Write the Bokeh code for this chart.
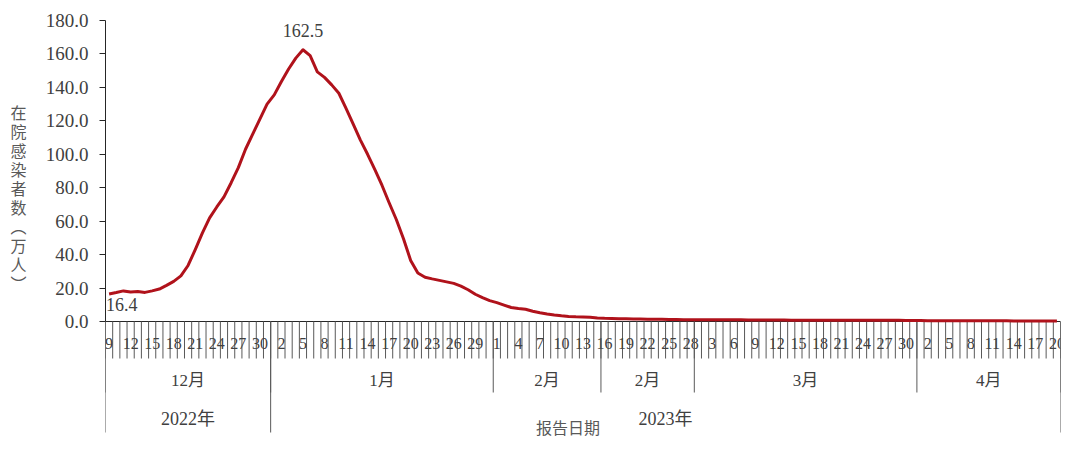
import numpy as np
import pandas as pd
from bokeh.plotting import figure
from bokeh.layouts import row
from bokeh.models import Range1d, FixedTicker, PrintfTickFormatter
from bokeh.core.properties import value
from bokeh.embed import file_html
from bokeh.resources import INLINE

# ---------------- data ----------------
start_date = "2022-12-09"
end_date = "2023-04-20"

dec_values = [16.4, 17.3, 18.3, 17.6, 17.9, 17.4, 18.3, 19.4, 21.6, 24.0, 27.3, 33.5,
              43.0, 53.0, 62.0, 68.5, 74.5, 83.0, 92.0, 103.0, 112.0, 121.0, 130.0]
jan_values = [135.5, 143.5, 151.0, 157.5, 162.5, 159.0, 149.3, 146.0, 141.5, 136.5,
              127.5, 118.0, 108.5, 100.0, 91.0, 81.5, 71.0, 61.0, 49.5, 36.5,
              29.0, 26.5, 25.5, 24.6, 23.7, 22.8, 21.2, 19.0, 16.3, 14.3, 12.5]
feb_values = [11.3, 9.8, 8.4, 7.8, 7.3, 6.1, 5.2, 4.5, 3.9, 3.4, 3.0, 2.8, 2.7, 2.5,
              2.1, 1.9, 1.8, 1.7, 1.6, 1.5, 1.5, 1.4, 1.3, 1.3, 1.2, 1.2, 1.1, 1.1]
mar_values = [1.1, 1.1, 1.0, 1.0, 1.0, 1.0, 1.0, 0.9, 0.9, 0.9, 0.9, 0.9, 0.9, 0.8,
              0.8, 0.8, 0.8, 0.8, 0.8, 0.8, 0.8, 0.7, 0.7, 0.7, 0.7, 0.7, 0.7, 0.7,
              0.7, 0.6, 0.6]
apr_values = [0.6, 0.5, 0.5, 0.5, 0.5, 0.5, 0.4, 0.4, 0.4, 0.4, 0.4, 0.4, 0.4, 0.3,
              0.3, 0.3, 0.3, 0.3, 0.3, 0.3]

month_labels = ["12月", "1月", "2月", "2月", "3月", "4月"]
month_sizes = [23, 31, 15, 13, 31, 20]
year_labels = ["2022年", "2023年"]
year_sizes = [23, 110]
label_step = 3
y_ticks = [0, 20, 40, 60, 80, 100, 120, 140, 160, 180]
y_title = "在院感染者数（万人）"
x_title = "报告日期"

# ---------------- derived ----------------
values = dec_values + jan_values + feb_values + mar_values + apr_values
days = pd.date_range(start_date, end_date, freq="D")
day_numbers = [str(d.day) for d in days]
N = len(values)
idx = np.arange(N)
xc = idx + 0.5

# ---------------- layout (pixels) ----------------
TOTAL_W, H = 1072, 439
TW = 36                              # width of the y-title strip
W = TOTAL_W - TW
ML, MR, MT, MB = 105 - TW, 12, 20, 0
ZERO_PX = 321                        # y pixel of value 0
Y_MAX = 180.0
PPU = (ZERO_PX - MT) / Y_MAX         # pixels per y unit
Y_MIN = -(H - MB - ZERO_PX) / PPU


def px(n):
    return n / PPU


SERIF = "Liberation Serif, Noto Sans CJK SC"
CJK = "Noto Sans CJK SC"
TXT = "#404040"
GRID = "#595959"
AXIS = "#262626"
LINE = "#B0121B"

yr = Range1d(Y_MIN, Y_MAX)

p = figure(width=W, height=H, output_backend="svg", toolbar_location=None,
           x_range=Range1d(0, N), y_range=yr,
           x_axis_location=None, min_border_left=ML, min_border_right=MR,
           min_border_top=MT, min_border_bottom=MB)
p.outline_line_color = None
p.xgrid.visible = False
p.ygrid.visible = False

ax = p.yaxis[0]
ax.bounds = (0, Y_MAX)
ax.ticker = FixedTicker(ticks=y_ticks)
ax.formatter = PrintfTickFormatter(format="%.1f")
ax.major_tick_out = 6
ax.major_tick_in = 0
ax.minor_tick_out = 0
ax.minor_tick_in = 0
ax.axis_line_color = AXIS
ax.major_tick_line_color = AXIS
ax.major_label_text_font = SERIF
ax.major_label_text_font_size = "19px"
ax.major_label_text_color = TXT
ax.major_label_standoff = 11

# x axis baseline
p.segment(x0=[0], y0=[0], x1=[N], y1=[0], line_color=AXIS, line_width=1)

# day ticks at category boundaries
bounds = np.arange(N + 1)
p.segment(x0=bounds, y0=np.zeros(N + 1), x1=bounds, y1=np.full(N + 1, -px(37)),
          line_color=GRID, line_width=1)

# day labels every 3rd day
lab_idx = idx[::label_step]
p.text(x=xc[lab_idx], y=np.full(len(lab_idx), -px(22)),
       text=[day_numbers[i] for i in lab_idx],
       text_font=value(SERIF), text_font_size="16px", text_color=TXT,
       text_align="center", text_baseline="middle")

# month groups
m_edges = np.concatenate([[0], np.cumsum(month_sizes)])
p.segment(x0=m_edges, y0=np.zeros(len(m_edges)), x1=m_edges,
          y1=np.full(len(m_edges), -px(71)), line_color=GRID, line_width=1)
m_cent = (m_edges[:-1] + m_edges[1:]) / 2
p.text(x=m_cent, y=np.full(len(m_cent), -px(59)), text=month_labels,
       text_font=value(SERIF), text_font_size="17px", text_color=TXT,
       text_align="center", text_baseline="middle")

# year groups
y_edges = np.concatenate([[0], np.cumsum(year_sizes)])
p.segment(x0=y_edges, y0=np.zeros(len(y_edges)), x1=y_edges,
          y1=np.full(len(y_edges), -px(111)), line_color=GRID, line_width=1)
y_cent = (y_edges[:-1] + y_edges[1:]) / 2
p.text(x=y_cent, y=np.full(len(y_cent), -px(97)), text=year_labels,
       text_font=value(SERIF), text_font_size="18px", text_color=TXT,
       text_align="center", text_baseline="middle")

# x axis title
p.text(x=[N / 2], y=[-px(105)], text=[x_title], x_offset=-15,
       text_font=value(CJK), text_font_size="16px", text_color="#595959",
       text_align="center", text_baseline="middle")

# main line
p.line(xc, values, line_color=LINE, line_width=3, line_join="round")

# data labels: first and peak
peak = int(np.argmax(values))
p.text(x=[xc[0]], y=[values[0]], text=[f"{values[0]:.1f}"], x_offset=-3, y_offset=10,
       text_font=value(SERIF), text_font_size="18px", text_color=TXT,
       text_align="left", text_baseline="middle")
p.text(x=[xc[peak]], y=[values[peak]], text=[f"{values[peak]:.1f}"], y_offset=-19,
       text_font=value(SERIF), text_font_size="18px", text_color=TXT,
       text_align="center", text_baseline="middle")

# ---------------- y-title strip (upright stacked characters) ----------------
vert = list(y_title.replace("（", "︵").replace("）", "︶"))
CH_STEP = 19.0
TITLE_CENTER_PX = 197.0
first_px = TITLE_CENTER_PX - CH_STEP * (len(vert) - 1) / 2
char_y = [(ZERO_PX - (first_px + k * CH_STEP)) / PPU for k in range(len(vert))]

tp = figure(width=TW, height=H, output_backend="svg", toolbar_location=None,
            x_range=Range1d(0, TW), y_range=yr, x_axis_location=None,
            y_axis_location=None, min_border_left=0, min_border_right=0,
            min_border_top=MT, min_border_bottom=MB)
tp.outline_line_color = None
tp.xgrid.visible = False
tp.ygrid.visible = False
tp.text(x=np.full(len(vert), 18.0), y=char_y, text=vert,
        text_font=value(CJK), text_font_size="16px", text_color="#595959",
        text_align="center", text_baseline="middle")

layout = row(tp, p, spacing=0)
open("out.html", "w").write(file_html(layout, INLINE))
